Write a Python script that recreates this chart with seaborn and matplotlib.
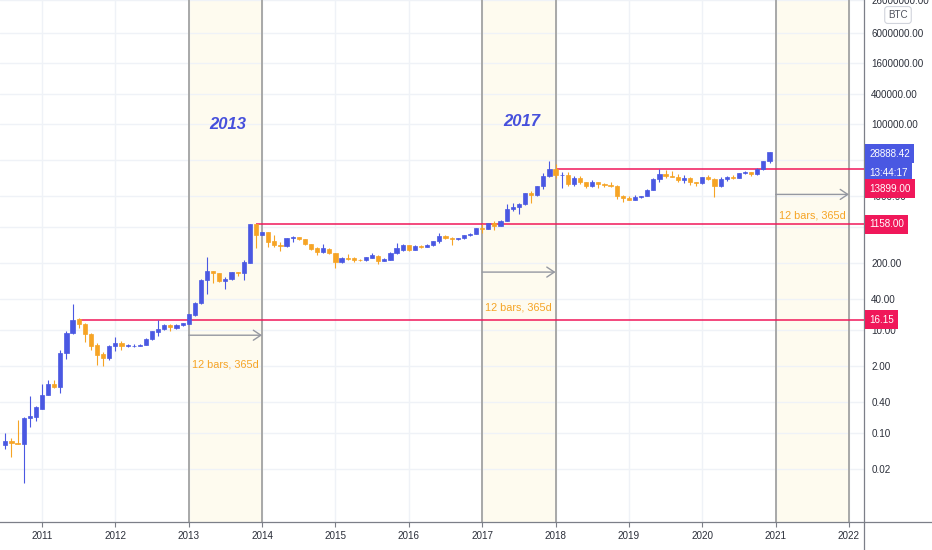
import numpy as np
import pandas as pd
import matplotlib
matplotlib.use("Agg")
import matplotlib.pyplot as plt
import seaborn as sns
from matplotlib.lines import Line2D
from matplotlib.ticker import FixedLocator, FixedFormatter, NullLocator

# ---------------- data (monthly BTC candles, Jul 2010 .. Dec 2020) ----------------
months = pd.date_range("2010-07-01", "2020-12-01", freq="MS")

open_ = [
    0.060, 0.070, 0.063, 0.062, 0.195, 0.210,
    0.30, 0.56, 0.89, 0.78, 3.55, 9.0, 16.6, 13.4, 8.6, 5.2, 3.5, 2.95,
    4.85, 5.6, 4.95, 4.95, 5.0, 5.25, 6.7, 9.4, 10.4, 12.8, 11.2, 12.6,
    13.5, 20.0, 33.4, 94.0, 140.0, 129.0, 92.0, 100.0, 133.0, 127.0, 205.0, 1150.0,
    720, 805, 545, 455, 440, 625, 645, 585, 480, 390, 331, 386,
    315, 215, 258, 250, 236, 232, 258, 282, 224, 236, 320, 370,
    445, 365, 440, 416, 452, 540, 670, 630, 585, 615, 705, 750,
    970, 945, 1195, 1080, 1350, 2300, 2480, 2875, 4700, 4340, 6450, 9950,
    13899, 10220, 10300, 6920, 9240, 7490, 6390, 7730, 7030, 6620, 6320, 4040,
    3740, 3450, 3820, 4100, 5320, 8560, 10820, 10080, 9600, 8300, 9150, 7550,
    7190, 9350, 8540, 6410, 8630, 9450, 9140, 11350, 11660, 10780, 13800, 19700,
]
high = [
    0.101, 0.081, 0.179, 0.205, 0.52, 0.33,
    0.89, 1.10, 1.07, 4.1, 9.7, 33.0, 17.2, 13.9, 8.7, 5.7, 3.8, 5.1,
    7.4, 6.2, 5.4, 5.3, 5.3, 7.0, 9.7, 16.0, 13.0, 13.0, 13.2, 13.9,
    21.1, 35.0, 99.0, 266.0, 142.0, 130.0, 108.0, 137.0, 134.0, 229.0, 1158.0, 1158.0,
    830, 810, 700, 520, 625, 680, 655, 604, 485, 412, 474, 400,
    323, 270, 298, 262, 246, 268, 317, 285, 250, 335, 495, 465,
    462, 445, 445, 466, 550, 780, 705, 635, 630, 720, 760, 975,
    1160, 1210, 1350, 1370, 2790, 2980, 2930, 4750, 4980, 6470, 11400, 19666,
    17250, 11790, 11700, 9750, 10000, 7760, 8500, 7770, 7410, 7680, 6600, 4310,
    4080, 4200, 4140, 5630, 9080, 13880, 13200, 12330, 10950, 10540, 9510, 7750,
    9580, 10520, 9180, 9460, 10060, 10400, 11430, 12470, 12070, 14100, 19870, 29300,
]
low = [
    0.050, 0.034, 0.061, 0.0108, 0.132, 0.173,
    0.29, 0.55, 0.74, 0.59, 2.7, 8.6, 11.3, 5.9, 4.2, 2.1, 2.0, 2.6,
    4.0, 4.1, 4.7, 4.7, 4.9, 5.1, 6.5, 7.6, 9.9, 9.8, 10.4, 12.3,
    13.2, 19.2, 32.5, 50.0, 83.0, 88.0, 63.0, 93.0, 114.0, 96.0, 200.0, 390.0,
    700, 410, 414, 340, 414, 520, 570, 447, 357, 286, 323, 300,
    162, 205, 230, 214, 226, 222, 252, 197, 218, 230, 298, 350,
    352, 360, 393, 412, 440, 505, 600, 461, 570, 604, 690, 740,
    790, 910, 890, 1060, 1340, 2120, 1830, 2700, 2970, 4110, 5500, 9700,
    9000, 5950, 6430, 6430, 7030, 5770, 6110, 5880, 6110, 6200, 3500, 3120,
    3350, 3380, 3670, 4040, 5320, 7460, 9070, 9330, 7710, 7300, 6520, 6440,
    6850, 8450, 3850, 6150, 8110, 8900, 8980, 10990, 9880, 10370, 13200, 17600,
]
close = [
    0.070, 0.063, 0.062, 0.200, 0.217, 0.32,
    0.56, 0.89, 0.79, 3.62, 9.0, 16.15, 13.1, 8.6, 4.9, 3.27, 2.95, 4.85,
    5.6, 5.0, 5.05, 5.0, 5.15, 6.85, 9.6, 10.8, 12.8, 11.5, 12.8, 13.7,
    20.8, 33.5, 95.0, 140.0, 127.0, 92.0, 100.0, 133.0, 127.0, 210.0, 1150.0, 710.0,
    805, 530, 450, 440, 620, 640, 585, 465, 380, 331, 390, 312,
    215, 258, 244, 236, 232, 263, 290, 220, 240, 320, 390, 450,
    365, 440, 420, 452, 540, 675, 630, 585, 620, 705, 750, 965,
    950, 1190, 1080, 1350, 2300, 2480, 2875, 4700, 4340, 6450, 9950, 13899,
    10220, 10300, 6920, 9240, 7490, 6390, 7730, 7030, 6620, 6320, 4040, 3740,
    3450, 3820, 4100, 5320, 8560, 10820, 10080, 9600, 8300, 9150, 7550, 7190,
    9350, 8540, 6410, 8630, 9450, 9140, 11350, 11660, 10780, 13800, 19700, 28888.42,
]

year_ticks = list(range(2011, 2023))
price_ticks = [0.02, 0.10, 0.40, 2.00, 10.00, 40.00, 200.00, 1000.00, 4000.00,
               20000.00, 100000.00, 400000.00, 1600000.00, 6000000.00, 26000000.00]
cycle_starts = [2013, 2017, 2021]
cycle_titles = ["2013", "2017"]
level_values = [16.15, 1158.00, 13899.00]
level_starts = ["2011-07-01", "2013-12-01", "2018-01-01"]
last_price = 28888.42
countdown = "13:44:17"
span_label = "12 bars, 365d"

# ---------------- style ----------------
sns.set_theme(style="white")
plt.rcParams["font.family"] = ["Liberation Sans", "DejaVu Sans"]

BLUE = "#4a58e2"
ORANGE = "#f6a425"
PINK = "#f0185a"
GRID = "#eff2f7"
AXIS = "#7c7f88"
TXT = "#2a2e39"

df = pd.DataFrame({"date": months, "open": open_, "high": high, "low": low, "close": close})
df["x"] = df["date"].dt.year + (df["date"].dt.month - 1) / 12.0
df["up"] = df["close"] >= df["open"]
cols = np.where(df["up"], BLUE, ORANGE)

def to_x(d):
    d = pd.Timestamp(d)
    return d.year + (d.month - 1) / 12.0

fig = plt.figure(figsize=(9.32, 5.5), dpi=100)
fig.patch.set_facecolor("white")
ax = fig.add_axes([0, 28 / 550, 864 / 932, 522 / 550])
ax.set_facecolor("white")
ax.set_yscale("log")

xmin, xmax = 2010.4275, 2022.2045
ax.set_xlim(xmin, xmax)
ax.set_ylim(0.00187, 2.63e7)

# highlighted cycle years
for s in cycle_starts:
    ax.axvspan(s, s + 1, color="#fefbef", lw=0, zorder=0)

# grid
for t in price_ticks:
    ax.axhline(t, color=GRID, lw=1.0, zorder=0.5)
for yv in year_ticks:
    ax.axvline(yv, color=GRID, lw=1.0, zorder=0.5)

for s in cycle_starts:
    ax.axvline(s, color="#a8a8a8", lw=1.4, zorder=1)
    ax.axvline(s + 1, color="#a8a8a8", lw=1.4, zorder=1)

# horizontal levels
for v, st in zip(level_values, level_starts):
    ax.hlines(v, to_x(st), xmax, color=PINK, lw=1.1, zorder=4)

# candles
ax.vlines(df["x"], df["low"], df["high"], colors=cols, lw=0.8, zorder=5)
body_bottom = np.minimum(df["open"], df["close"])
body_height = np.abs(df["close"] - df["open"])
ax.bar(df["x"], body_height, bottom=body_bottom, width=0.057, color=cols,
       edgecolor=cols, linewidth=0.5, zorder=6)

# span arrows + labels
arrow_y = [8.0, 135.0, 4370.0]
label_y = [2.16, 27.6, 1710.0]
for s, ay, ly in zip(cycle_starts, arrow_y, label_y):
    ax.annotate("", xy=(s + 1, ay), xytext=(s, ay),
                arrowprops=dict(arrowstyle="->,head_length=0.45,head_width=0.3",
                                color="#9598a1", lw=1.0, shrinkA=0, shrinkB=0,
                                mutation_scale=12), zorder=7)
    ax.text(s + 0.5, ly, span_label, ha="center", va="center", fontsize=7.8,
            color=ORANGE, zorder=7)

# cycle titles
title_pos = [(2013.535, 100000.0), (2017.543, 114000.0)]
for t, (tx, ty) in zip(cycle_titles, title_pos):
    ax.text(tx, ty, t, ha="center", va="center", fontsize=12, fontweight="bold",
            fontstyle="italic", color="#4650dc", zorder=7)

# axes / ticks
ax.yaxis.tick_right()
ax.yaxis.set_major_locator(FixedLocator(price_ticks))
ax.yaxis.set_major_formatter(FixedFormatter([f"{v:.2f}" for v in price_ticks]))
ax.yaxis.set_minor_locator(NullLocator())
ax.set_xticks(year_ticks)
ax.set_xticklabels([str(y) for y in year_ticks])
ax.xaxis.set_minor_locator(NullLocator())
ax.tick_params(axis="y", which="major", right=True, left=False, length=3, width=0.8,
               color=AXIS, pad=2.2, labelsize=7.1, labelcolor=TXT)
ax.tick_params(axis="x", which="major", bottom=True, length=3.6, width=0.8,
               color=AXIS, pad=3.2, labelsize=7.1, labelcolor=TXT)
sns.despine(ax=ax, left=True, top=True, right=False, bottom=False)
for sp in ("right", "bottom"):
    ax.spines[sp].set_color(AXIS)
    ax.spines[sp].set_linewidth(0.9)
ax.grid(False)

# extend axis lines beyond the plot corner
xr = 864 / 932
yb = 28 / 550
fig.add_artist(Line2D([xr, 1.0], [yb, yb], transform=fig.transFigure, color=AXIS, lw=0.9))
fig.add_artist(Line2D([xr, xr], [0.0, yb], transform=fig.transFigure, color=AXIS, lw=0.9))

# price labels on the right axis
def price_box(value, text, color, dy):
    ax.annotate(text, xy=(1, value), xycoords=("axes fraction", "data"),
                xytext=(5, dy), textcoords="offset pixels", ha="left", va="center",
                fontsize=7.1, color="white", annotation_clip=False, zorder=20,
                bbox=dict(boxstyle="square,pad=0.45", fc=color, ec="none"))

price_box(last_price, f"{last_price:.2f}", BLUE, -1.5)
price_box(last_price, countdown, BLUE, -20.5)
price_box(level_values[2], f"{level_values[2]:.2f}", PINK, -20.2)
price_box(level_values[1], f"{level_values[1]:.2f}", PINK, 0)
price_box(level_values[0], f"{level_values[0]:.2f}", PINK, 0)

fig.text(898 / 932, 1 - 15 / 550, "BTC", ha="center", va="center", fontsize=7.1,
         color="#50535e",
         bbox=dict(boxstyle="round,pad=0.35,rounding_size=0.3", fc="white",
                   ec="#d1d4dc", lw=0.8))

fig.savefig("out.png", dpi=100, facecolor="white")
